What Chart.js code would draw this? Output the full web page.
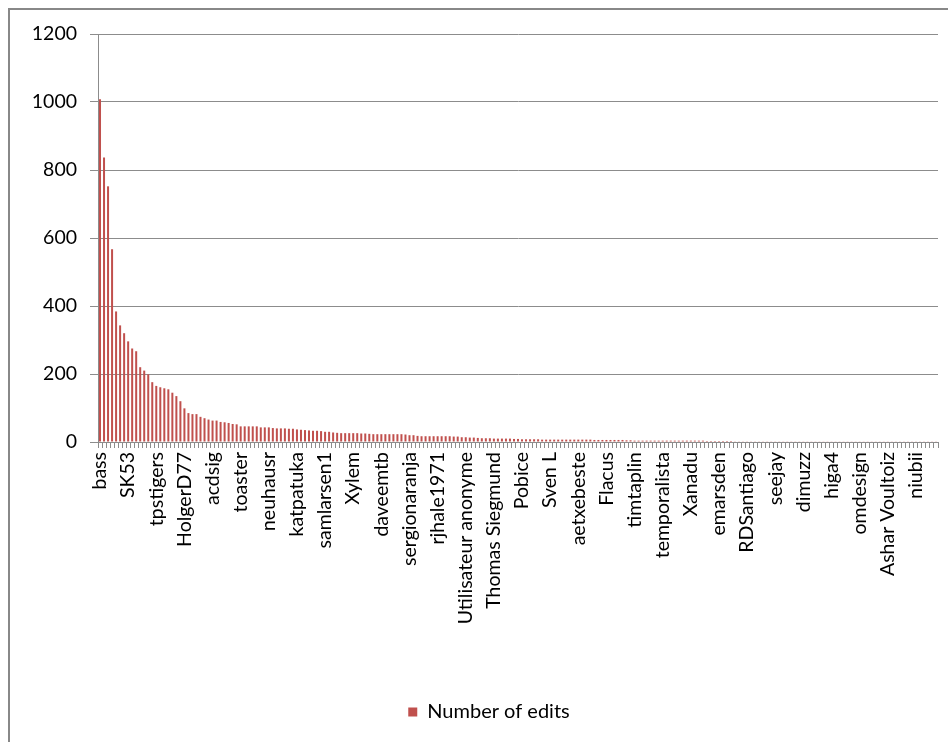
<!DOCTYPE html>
<html>
<head>
<meta charset="utf-8">
<title>Number of edits</title>
<script src="https://cdn.jsdelivr.net/npm/chart.js@4"></script>
<style>
  html, body { margin: 0; padding: 0; background: #fff; }
  canvas { display: block; }
</style>
</head>
<body>
<canvas id="edits" width="948" height="742"></canvas>
<script>
// Contributors whose names appear on the category axis (every 7th contributor).
const shownNames = [
  'bass', 'SK53', 'tpstigers', 'HolgerD77', 'acdsig', 'toaster', 'neuhausr',
  'katpatuka', 'samlarsen1', 'Xylem', 'daveemtb', 'sergionaranja', 'rjhale1971',
  'Utilisateur anonyme', 'Thomas Siegmund', 'Pobice', 'Sven L', 'aetxebeste',
  'Flacus', 'timtaplin', 'temporalista', 'Xanadu', 'emarsden', 'RDSantiago',
  'seejay', 'dimuzz', 'higa4', 'omdesign', 'Ashar Voultoiz', 'niubii'
];
const labelEvery = 7;

// Edits per contributor, sorted from most to fewest.
const edits = [
  1008, 837, 752, 567, 384, 343, 320, 296, 275, 267,
  220, 210, 199, 176, 165, 161, 158, 155, 145, 135,
  120, 99, 85, 82, 82, 74, 70, 66, 63, 63,
  59, 58, 56, 53, 52, 46, 46, 46, 46, 46,
  43, 43, 43, 41, 40, 40, 40, 39, 39, 37,
  36, 35, 34, 33, 33, 32, 30, 30, 28, 27,
  26, 26, 26, 26, 26, 25, 25, 24, 23, 23,
  23, 23, 23, 23, 23, 23, 22, 20, 20, 18,
  17, 17, 17, 17, 17, 17, 17, 17, 16, 16,
  14, 14, 13, 13, 12, 11, 11, 11, 10, 10,
  10, 10, 10, 9, 9, 8, 8, 8, 8, 8,
  7, 7, 7, 7, 7, 7, 7, 7, 7, 7,
  7, 7, 7, 6, 6, 6, 6, 6, 6, 6,
  6, 5, 5, 4, 4, 4, 4, 4, 4, 4,
  4, 4, 4, 4, 4, 4, 4, 4, 4, 4,
  4, 3, 3, 3, 3, 3, 3, 3, 2, 2,
  2, 2, 2, 2, 2, 2, 2, 2, 2, 2,
  2, 2, 2, 2, 2, 2, 1, 1, 1, 1,
  1, 1, 1, 1, 1, 1, 1, 1, 1, 1,
  1, 1, 1, 1, 1, 1, 1, 1, 1, 1,
  1, 1, 1, 1, 1, 1, 1, 1, 1
];

const yTicks = [0, 200, 400, 600, 800, 1000, 1200];

// Category labels: a name on every 7th contributor, blank in between.
const categories = edits.map((_, i) =>
  i % labelEvery === 0 ? (shownNames[i / labelEvery] || '') : '');

const FONT = 'Lato, "Open Sans", "Liberation Sans", sans-serif';
const GRID = '#8c8c8c';

// Paper background and the frame drawn around the chart object.
const frame = {
  id: 'frame',
  beforeDraw(chart) {
    const ctx = chart.ctx;
    ctx.save();
    ctx.fillStyle = '#ffffff';
    ctx.fillRect(0, 0, chart.width, chart.height);
    ctx.strokeStyle = '#888888';
    ctx.lineWidth = 2;
    ctx.beginPath();
    ctx.moveTo(9, chart.height + 2);
    ctx.lineTo(9, 9);
    ctx.lineTo(chart.width + 2, 9);
    ctx.stroke();
    ctx.restore();
  }
};

// Nudge the legend a little to the right of the canvas centre.
const legendOffset = {
  id: 'legendOffset',
  afterLayout(chart) {
    if (chart.legend) {
      chart.legend.left += 16;
      chart.legend.right += 16;
    }
  }
};

new Chart(document.getElementById('edits'), {
  type: 'bar',
  data: {
    labels: categories,
    datasets: [{
      label: 'Number of edits',
      data: edits,
      backgroundColor: '#C0504D',
      borderWidth: 0,
      barPercentage: 0.5,
      categoryPercentage: 1.0
    }]
  },
  options: {
    responsive: false,
    animation: false,
    layout: { padding: { left: 8, top: 34, right: 10, bottom: 10 } },
    plugins: {
      tooltip: { enabled: false },
      legend: {
        position: 'bottom',
        align: 'center',
        labels: {
          font: { family: FONT, size: 20 },
          color: '#000',
          boxWidth: 9,
          boxHeight: 9,
          padding: 10
        }
      }
    },
    scales: {
      x: {
        afterFit(scale) {
          scale.height = 250;
          scale.paddingLeft = 0;
          scale.paddingRight = 0;
        },
        grid: {
          display: true,
          offset: true,
          drawOnChartArea: false,
          drawTicks: true,
          tickLength: 6,
          color: GRID,
          lineWidth: 1
        },
        border: { display: true, color: GRID, width: 1 },
        ticks: {
          autoSkip: false,
          minRotation: 90,
          maxRotation: 90,
          padding: 4,
          color: '#000',
          font: { family: FONT, size: 19.5 },
          callback: (value, index) => categories[index]
        }
      },
      y: {
        min: 0,
        max: 1200,
        afterFit(scale) { scale.width = 90; },
        afterBuildTicks(scale) { scale.ticks = yTicks.map(v => ({ value: v })); },
        grid: {
          color: GRID,
          lineWidth: 1,
          drawTicks: true,
          tickLength: 8
        },
        border: { display: true, color: GRID, width: 1 },
        ticks: {
          padding: 13,
          color: '#000',
          font: { family: FONT, size: 19.5 },
          callback: (value) => String(value)
        }
      }
    }
  },
  plugins: [frame, legendOffset]
});
</script>
</body>
</html>
